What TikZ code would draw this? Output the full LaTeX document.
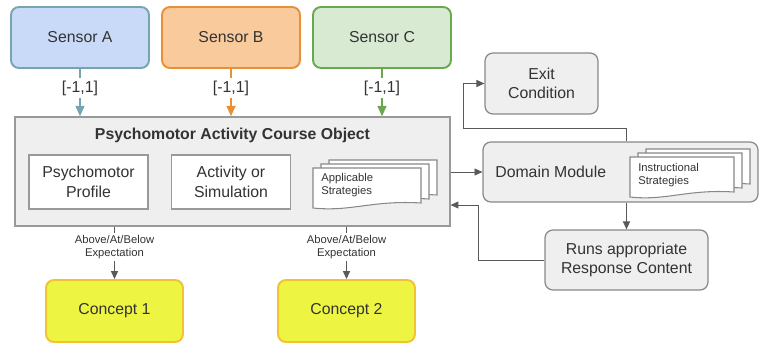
\documentclass[tikz,border=0pt]{standalone}
\usepackage{fontspec}
\setmainfont{Liberation Sans}
\usetikzlibrary{arrows.meta,positioning}

\definecolor{txt}{HTML}{333333}
\definecolor{sensAfill}{HTML}{C9DAF8}
\definecolor{sensAline}{HTML}{76A5AF}
\definecolor{sensBfill}{HTML}{F9CB9C}
\definecolor{sensBline}{HTML}{E69138}
\definecolor{sensCfill}{HTML}{D9EAD3}
\definecolor{sensCline}{HTML}{6AA84F}
\definecolor{conceptfill}{HTML}{EDF542}
\definecolor{conceptline}{HTML}{F1C232}
\definecolor{panel}{HTML}{EFEFEF}
\definecolor{boxgray}{HTML}{999999}
\definecolor{modgray}{HTML}{888888}
\definecolor{linegray}{HTML}{595959}

% stack of three sheets: left, top, width, height of the front sheet
\newcommand{\docstack}[4]{%
  \foreach \d in {2,1,0}{
    \draw[docline,fill=white] ({#1+8*\d},{#2-4*\d}) -- ({#1+#3+8*\d},{#2-4*\d})
      -- ({#1+#3+8*\d},{#2+#4-5-4*\d})
      .. controls ({#1+0.55*#3+8*\d},{#2+#4-8-4*\d}) and ({#1+0.35*#3+8*\d},{#2+#4+4-4*\d})
      .. ({#1+8*\d},{#2+#4-4*\d}) -- cycle;
  }}

\begin{document}
\begin{tikzpicture}[x=0.02cm,y=-0.02cm,
  sensor/.style={draw,line width=1.1pt,rounded corners=4.5pt,minimum width=2.76cm,minimum height=1.22cm,font=\fontsize{9}{11}\selectfont,text=txt},
  course/.style={draw=boxgray,fill=panel,line width=0.7pt,minimum width=8.7cm,minimum height=2.18cm},
  part/.style={draw=boxgray,fill=white,line width=0.7pt,minimum width=2.38cm,minimum height=1.08cm,align=center,font=\fontsize{9}{11}\selectfont,text=txt},
  module/.style={draw=modgray,fill=panel,line width=0.7pt,rounded corners=4.5pt,align=center,font=\fontsize{9}{11}\selectfont,text=txt},
  concept/.style={draw=conceptline,fill=conceptfill,line width=1.1pt,rounded corners=4.5pt,minimum width=2.74cm,minimum height=1.24cm,font=\fontsize{9}{11}\selectfont,text=txt},
  feed/.style={-{Triangle[length=6pt,width=5pt]},line width=1.2pt},
  conn/.style={draw=linegray,line width=0.55pt,-{Triangle[length=4.5pt,width=4pt]}},
  rangelab/.style={fill=white,inner sep=1.5pt,font=\fontsize{9}{11}\selectfont,text=txt},
  small/.style={font=\fontsize{6.4}{7.5}\selectfont,text=txt,align=center},
  docline/.style={draw=modgray,line width=0.6pt}
]
\useasboundingbox (0,0) rectangle (761,345);

% sensors
\node[sensor,draw=sensAline,fill=sensAfill] (sa) at (80,37.5) {Sensor A};
\node[sensor,draw=sensBline,fill=sensBfill] (sb) at (231,37.5) {Sensor B};
\node[sensor,draw=sensCline,fill=sensCfill] (sc) at (382,37.5) {Sensor C};

% course object
\node[course] (course) at (232.5,171.5) {};
\node[font=\bfseries\fontsize{9}{11}\selectfont,text=txt] (title) at (232.5,135) {Psychomotor Activity Course Object};
\node[part] (profile) at (88.5,182) {Psychomotor\\Profile};
\node[part] (activity) at (231,182) {Activity or\\Simulation};
\docstack{313}{168}{108}{40}
\node[small,align=left,anchor=west,inner sep=0pt] (appl) at (321,185) {Applicable\\Strategies};

\draw[feed,sensAline] (sa) -- (sa |- course.north) node[rangelab,pos=0.4] {[-1,1]};
\draw[feed,sensBline] (sb) -- (sb |- course.north) node[rangelab,pos=0.4] {[-1,1]};
\draw[feed,sensCline] (sc) -- (sc |- course.north) node[rangelab,pos=0.4] {[-1,1]};

% concepts
\node[concept] (c1) at (114.5,311) {Concept 1};
\node[concept] (c2) at (346.5,311) {Concept 2};
\draw[conn] (course.south -| c1) -- (c1.north) node[small,fill=white,inner sep=1pt,pos=0.39] {Above/At/Below\\Expectation};
\draw[conn] (course.south -| c2) -- (c2.north) node[small,fill=white,inner sep=1pt,pos=0.39] {Above/At/Below\\Expectation};

% domain side
\node[module,minimum width=5.5cm,minimum height=1.2cm] (dom) at (620.5,172) {};
\node[font=\fontsize{9}{11}\selectfont,text=txt,anchor=west,inner sep=0pt] (domtext) at (495,172) {Domain Module};
\docstack{630}{157}{104}{40}
\node[small,align=left,anchor=west,inner sep=0pt] (instr) at (638,175) {Instructional\\Strategies};
\node[module,minimum width=2.26cm,minimum height=1.22cm] (exit) at (541.5,83.5) {Exit\\Condition};
\node[module,minimum width=3.26cm,minimum height=1.2cm] (runs) at (626.5,260) {Runs appropriate\\Response Content};

\coordinate (exitbend) at (463,128);
\coordinate (backbend) at (478,205);
\draw[conn] (dom.west -| course.east) -- (dom.west);
\draw[conn] (dom.north -| runs) |- (exitbend) |- (exit.west);
\draw[conn] (dom.south -| runs) -- (runs.north);
\draw[conn] (runs.west) -| (backbend) -- (course.east |- backbend);
\end{tikzpicture}
\end{document}
